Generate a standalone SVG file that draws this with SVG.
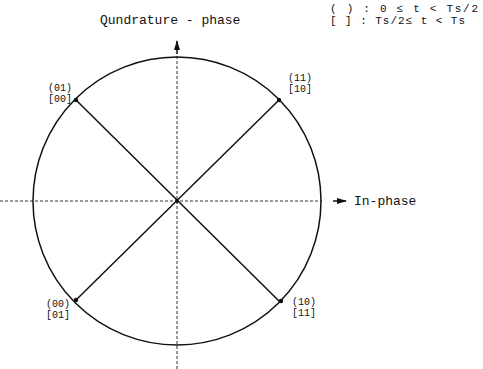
<svg xmlns="http://www.w3.org/2000/svg" width="483" height="369" viewBox="0 0 483 369">
<style>
text{font-family:"Liberation Mono","DejaVu Sans Mono",monospace;fill:#111}
.lbl{font-size:10px}
.ax{stroke:#333;stroke-width:1;stroke-dasharray:3 2;fill:none}
.ln{stroke:#111;stroke-width:1.5;fill:none}
</style>
<defs>
<marker id="ah" markerWidth="10" markerHeight="6" refX="9" refY="3" orient="auto" markerUnits="userSpaceOnUse">
<path d="M0,0 L10,3 L0,6 z" fill="#111"/>
</marker>
</defs>
<rect width="483" height="369" fill="#fff"/>
<g id="connectors">
<line class="ax" x1="0" y1="201" x2="322" y2="201"/>
<line x1="333" y1="201" x2="346" y2="201" stroke="#111" stroke-width="1.5" marker-end="url(#ah)"/>
<line class="ax" x1="177" y1="369" x2="177" y2="56"/>
<line x1="177" y1="54" x2="177" y2="41" stroke="#111" stroke-width="1.5" marker-end="url(#ah)"/>
<circle class="ln" cx="177" cy="201" r="144"/>
<line class="ln" x1="76" y1="100" x2="280" y2="302"/>
<line class="ln" x1="279" y1="100" x2="76" y2="300"/>
</g>
<g id="n01"><circle cx="76" cy="100" r="2.2" fill="#111"/><text class="lbl" x="48" y="91">(01)</text><text class="lbl" x="48" y="102">[00]</text></g>
<g id="n11"><circle cx="279" cy="100" r="2.2" fill="#111"/><text class="lbl" x="288" y="81">(11)</text><text class="lbl" x="288" y="92">[10]</text></g>
<g id="n00"><circle cx="76" cy="300" r="2.2" fill="#111"/><text class="lbl" x="46" y="307">(00)</text><text class="lbl" x="46" y="318">[01]</text></g>
<g id="n10"><circle cx="281" cy="301" r="2.2" fill="#111"/><text class="lbl" x="292" y="305">(10)</text><text class="lbl" x="292" y="316">[11]</text></g>
<g id="center"><circle cx="177" cy="201" r="2" fill="#111"/></g>
<g id="qaxis"><text x="100" y="24" font-size="13">Qundrature - phase</text></g>
<g id="iaxis"><text x="354" y="205" font-size="13">In-phase</text></g>
<g id="legend">
<text x="330" y="12" font-size="11" textLength="148" lengthAdjust="spacing">( ) : 0 ≤ t &lt; Ts/2</text>
<text x="330" y="24" font-size="11" textLength="135" lengthAdjust="spacing">[ ] : Ts/2≤ t &lt; Ts</text>
</g>
</svg>
